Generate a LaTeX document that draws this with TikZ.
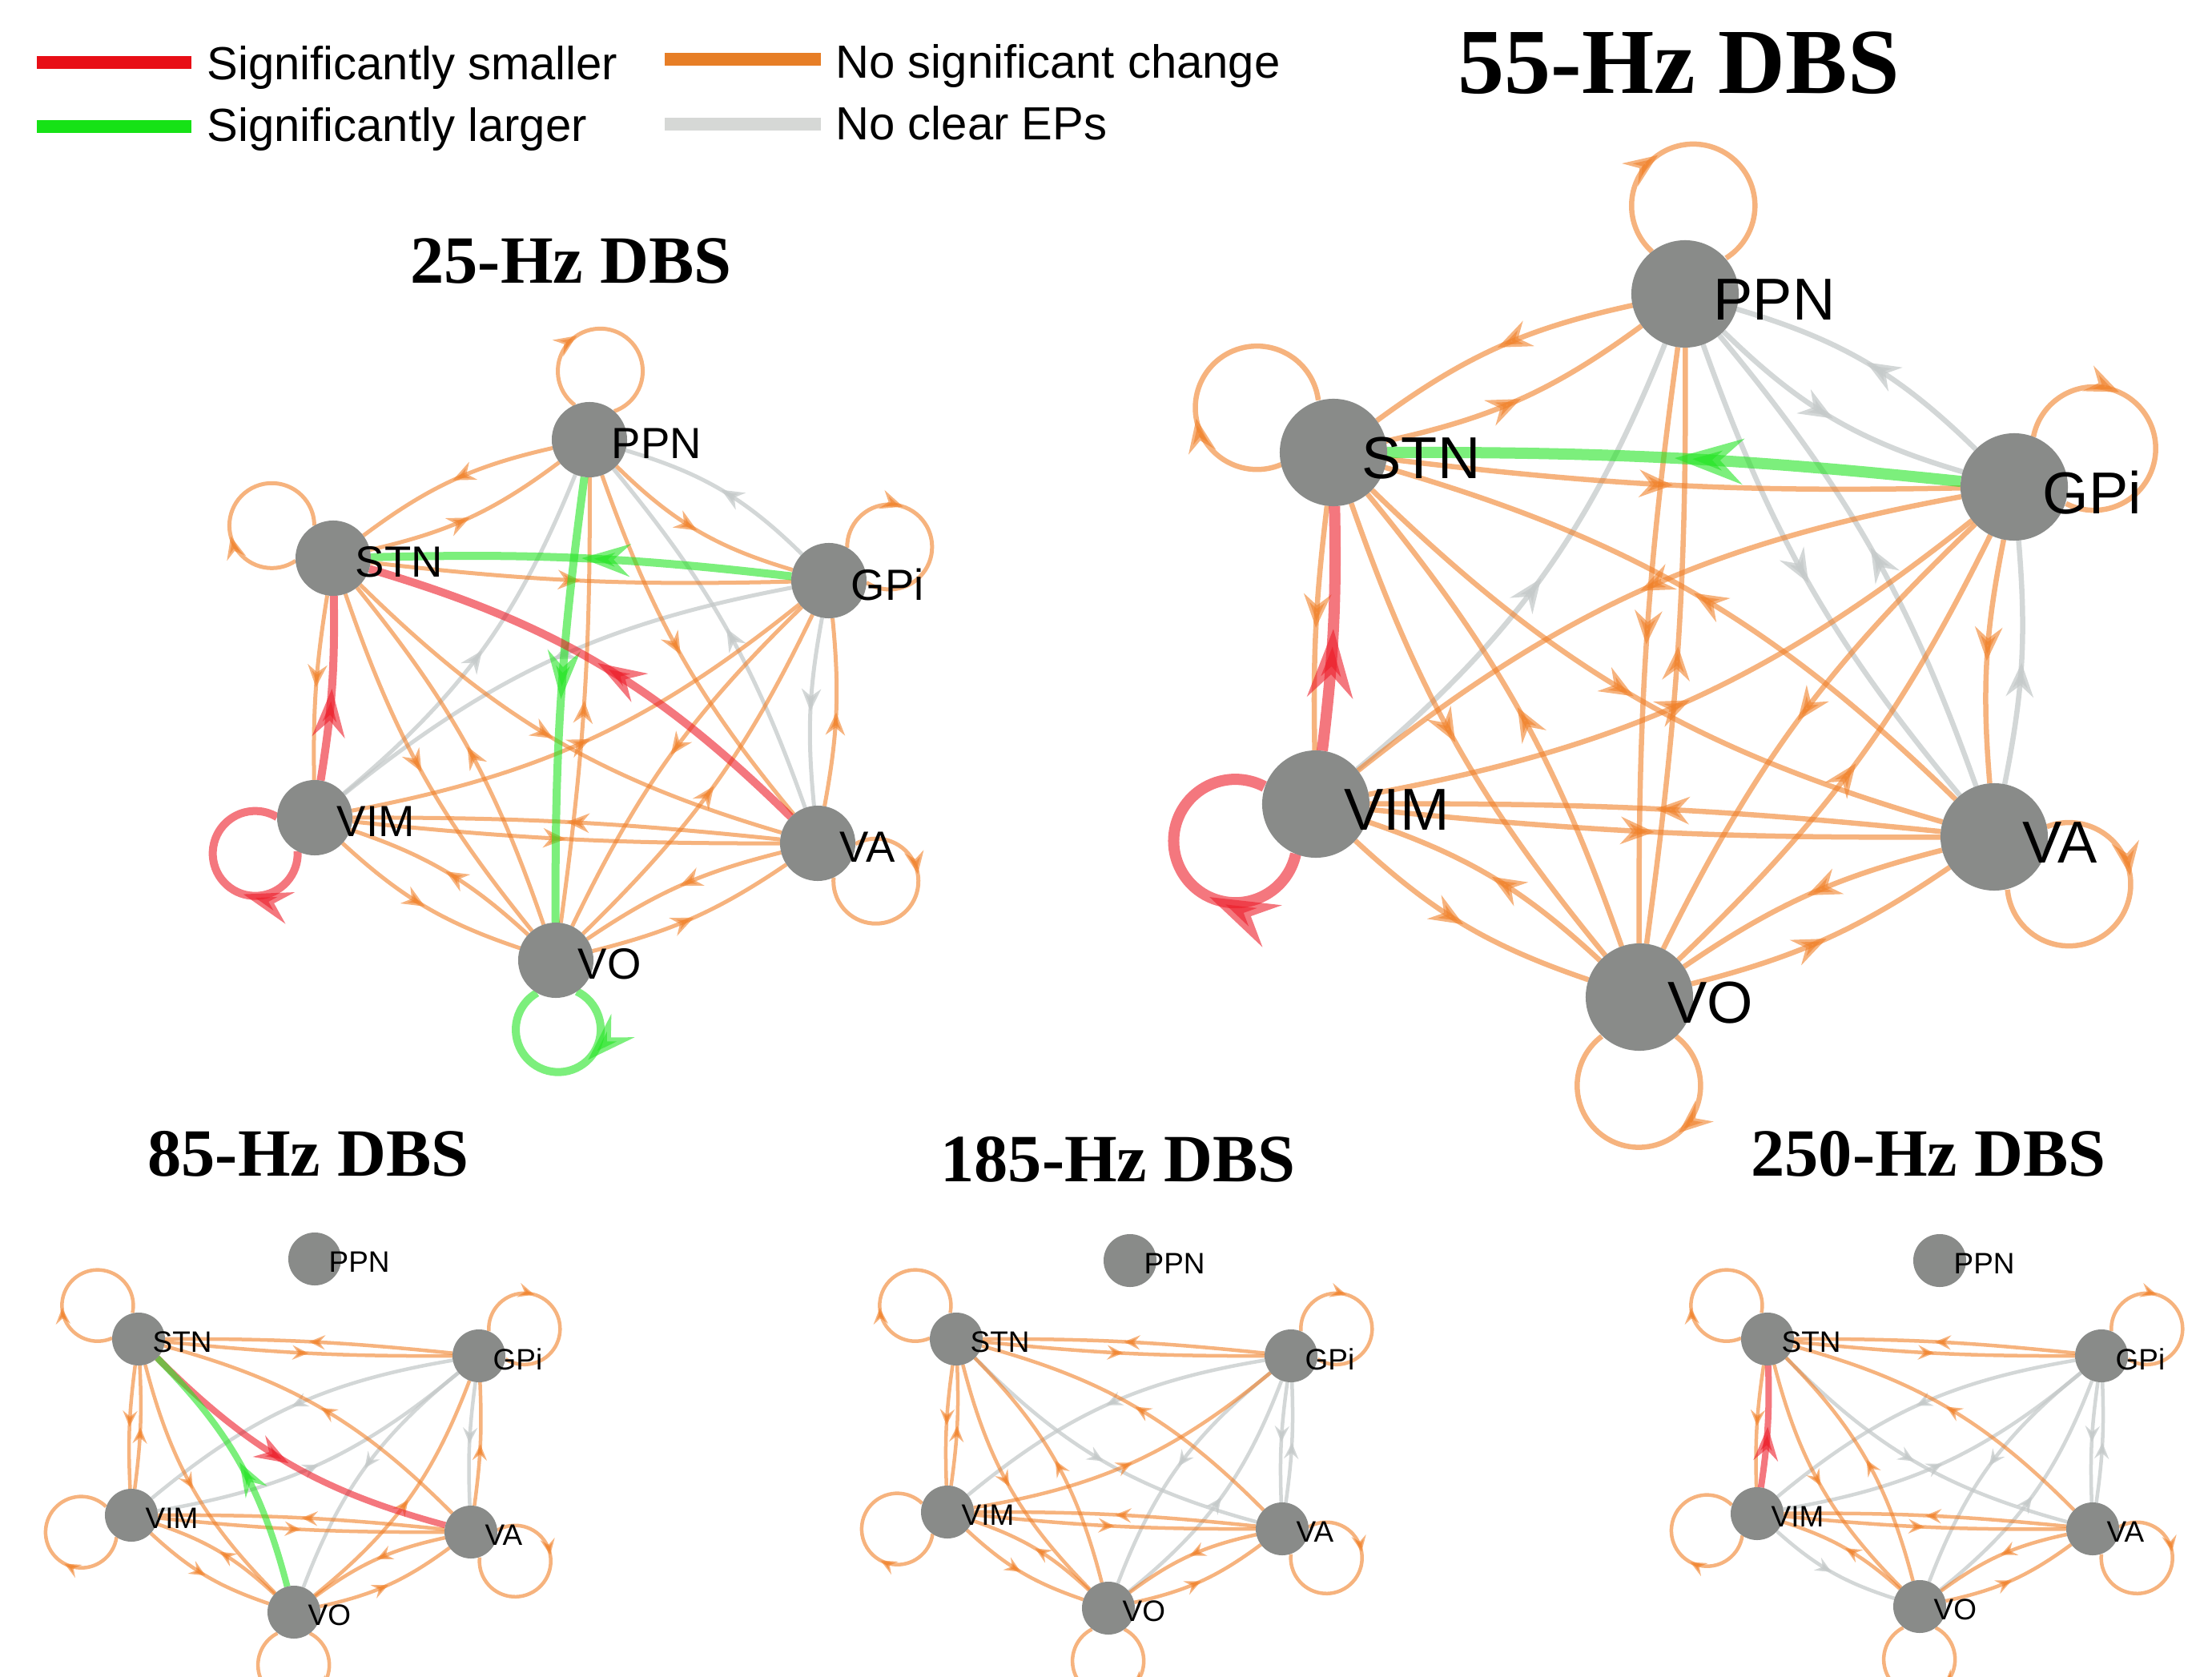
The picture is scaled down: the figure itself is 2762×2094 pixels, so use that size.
\documentclass[tikz,border=0pt]{standalone}
\usepackage{fontspec}
\setmainfont{Liberation Serif}
\setsansfont{Liberation Sans}
\usetikzlibrary{arrows.meta,decorations.markings}

\definecolor{hubgray}{RGB}{137,139,137}
\definecolor{nscorange}{RGB}{240,128,40}
\definecolor{noepgray}{RGB}{196,201,201}
\definecolor{smallred}{RGB}{236,28,40}
\definecolor{largegreen}{RGB}{36,228,36}
\definecolor{keyred}{RGB}{232,14,22}
\definecolor{keygreen}{RGB}{22,226,22}
\definecolor{keyorange}{RGB}{231,126,38}
\definecolor{keygray}{RGB}{214,216,214}

\pgfdeclarelayer{edges}
\pgfsetlayers{edges,main}

% position of the arrow head along a connection
\def\mpos{0.5}

\tikzset{
  hub/.style={circle, fill=hubgray, inner sep=0pt, outer sep=0pt},
  hubA/.style={hub, minimum size=0.94cm},
  hubB/.style={hub, minimum size=1.34cm},
  hubC/.style={hub, minimum size=0.66cm},
  tagA/.style={inner sep=0pt, font=\sffamily\fontsize{15.5}{16}\selectfont, xshift=-0.2cm, yshift=-0.05cm},
  tagB/.style={inner sep=0pt, font=\sffamily\fontsize{21}{22}\selectfont, xshift=-0.32cm, yshift=-0.07cm},
  tagC/.style={inner sep=0pt, font=\sffamily\fontsize{10.5}{11}\selectfont, xshift=-0.16cm, yshift=-0.04cm},
  title/.style={inner sep=0pt, font=\bfseries\fontsize{24}{24}\selectfont},
  key/.style={anchor=base west, inner sep=0pt, font=\sffamily\fontsize{16.5}{17}\selectfont},
  keybar/.style={line width=0.15cm},
  % no significant change
  ora/.style={draw=nscorange, opacity=.6, line width=\edgew, postaction={decorate},
    decoration={markings, mark=at position \mpos with {\arrow{Stealth[length=\tipl, width=\tipw, inset=\tipin]}}}},
  % no clear EPs
  gry/.style={ora, draw=noepgray, opacity=.75},
  % significantly smaller / larger
  rd/.style={draw=smallred, opacity=.6, line width=\hotw, postaction={decorate},
    decoration={markings, mark=at position \mpos with {\arrow{Stealth[length=\hotl, width=\hotwd, inset=\hotin]}}}},
  gn/.style={rd, draw=largegreen},
  % sizes of the three kinds of panels
  sizeA/.code={\def\edgew{0.05cm}\def\tipl{0.28cm}\def\tipw{0.24cm}\def\tipin{0.09cm}
    \def\hotw{0.1cm}\def\hotl{0.6cm}\def\hotwd{0.4cm}\def\hotin{0.2cm}
    \def\lphi{32}\def\lpsi{152}\def\lrad{0.53cm}},
  sizeB/.code={\def\edgew{0.065cm}\def\tipl{0.42cm}\def\tipw{0.34cm}\def\tipin{0.14cm}
    \def\hotw{0.14cm}\def\hotl{0.85cm}\def\hotwd{0.56cm}\def\hotin{0.28cm}
    \def\lphi{43}\def\lpsi{143}\def\lrad{0.77cm}},
  sizeC/.code={\def\edgew{0.045cm}\def\tipl{0.2cm}\def\tipw{0.18cm}\def\tipin{0.07cm}
    \def\hotw{0.08cm}\def\hotl{0.42cm}\def\hotwd{0.3cm}\def\hotin{0.14cm}
    \def\lphi{37}\def\lpsi{153}\def\lrad{0.445cm}},
}

% self connection: node, outward angle, style
\newcommand{\selfloop}[3]{%
  \pgfmathtruncatemacro{\loopin}{mod(#2+\lphi+720,360)}%
  \pgfmathtruncatemacro{\loopst}{#2+\lpsi}%
  \pgfmathtruncatemacro{\loopen}{#2-\lpsi}%
  {\def\mpos{0.36}\draw[#3] (#1.\loopin) arc[start angle=\loopst, end angle=\loopen, radius=\lrad];}}

\begin{document}
\begin{tikzpicture}[x=0.01cm, y=-0.01cm]
\useasboundingbox (0,0) rectangle (2762,2094);

% ----- legend -----
\draw[keybar, keyred] (46,78) -- (239,78);
\draw[keybar, keygreen] (46,158) -- (239,158);
\draw[keybar, keyorange] (830,74) -- (1025,74);
\draw[keybar, keygray] (830,155) -- (1025,155);
\node[key] (ksmall) at (258,100) {Significantly smaller};
\node[key] (klarge) at (258,177) {Significantly larger};
\node[key] (knone) at (1043,98) {No significant change};
\node[key] (kclear) at (1043,175) {No clear EPs};

% ----- titles -----
\node[title, font=\bfseries\fontsize{33}{33}\selectfont] (t55) at (2096,79) {55-Hz DBS};
\node[title] (t25) at (713,326) {25-Hz DBS};
\node[title] (t85) at (385,1441) {85-Hz DBS};
\node[title] (t185) at (1396,1448) {185-Hz DBS};
\node[title] (t250) at (2408,1441) {250-Hz DBS};

% ----- 25 Hz -----
\begin{scope}[sizeA]
\node[hubA, label={[tagA]east:PPN}] (ppn25) at (736,549) {};
\node[hubA, label={[tagA]east:STN}] (stn25) at (416,697) {};
\node[hubA, label={[tagA]east:GPi}] (gpi25) at (1035,725) {};
\node[hubA, label={[tagA]east:VIM}] (vim25) at (393,1021) {};
\node[hubA, label={[tagA]east:VA}] (va25) at (1021,1053) {};
\node[hubA, label={[tagA]east:VO}] (vo25) at (694,1199) {};
\begin{pgfonlayer}{edges}
\foreach \src/\dst/\kind/\bnd in {
    gpi/ppn/gry/14, gpi/va/gry/8, gpi/vim/gry/14, vim/ppn/gry/14, va/ppn/gry/10,
    ppn/stn/ora/12, stn/ppn/ora/12, ppn/gpi/ora/14, stn/gpi/ora/4, stn/vim/ora/5,
    va/gpi/ora/8, vim/va/ora/3, va/vim/ora/3, vim/vo/ora/12, vo/vim/ora/12,
    vo/va/ora/10, va/vo/ora/10, vo/ppn/ora/4, stn/va/ora/14, vim/gpi/ora/14,
    ppn/va/ora/10, stn/vo/ora/10, vo/stn/ora/10, gpi/vo/ora/10, vo/gpi/ora/10,
    gpi/stn/gn/4, ppn/vo/gn/4, vim/stn/rd/5, va/stn/rd/14}
  \draw[\kind] (\src25) to[bend right=\bnd] (\dst25);
\selfloop{ppn25}{81}{ora}
\selfloop{stn25}{152}{ora}
\selfloop{gpi25}{29}{ora}
\selfloop{va25}{-33}{ora}
\selfloop{vim25}{-149}{rd}
\selfloop{vo25}{-88}{gn}
\end{pgfonlayer}
\end{scope}

% ----- 55 Hz -----
\begin{scope}[sizeB]
\node[hubB, label={[tagB]east:PPN}] (ppn55) at (2104,367) {};
\node[hubB, label={[tagB]east:STN}] (stn55) at (1665,565) {};
\node[hubB, label={[tagB]east:GPi}] (gpi55) at (2515,608) {};
\node[hubB, label={[tagB]east:VIM}] (vim55) at (1643,1004) {};
\node[hubB, label={[tagB]east:VA}] (va55) at (2490,1045) {};
\node[hubB, label={[tagB]east:VO}] (vo55) at (2047,1245) {};
\begin{pgfonlayer}{edges}
\foreach \src/\dst/\kind/\bnd in {
    ppn/gpi/gry/14, gpi/ppn/gry/14, va/gpi/gry/8, vim/ppn/gry/14, ppn/va/gry/10, va/ppn/gry/10,
    ppn/stn/ora/12, stn/ppn/ora/12, stn/gpi/ora/4, stn/vim/ora/4, gpi/va/ora/8,
    vim/va/ora/3, va/vim/ora/3, vim/vo/ora/12, vo/vim/ora/12, vo/va/ora/10, va/vo/ora/10,
    ppn/vo/ora/4, vo/ppn/ora/4, stn/va/ora/14, va/stn/ora/14, gpi/vim/ora/14, vim/gpi/ora/14,
    stn/vo/ora/10, vo/stn/ora/10, gpi/vo/ora/10, vo/gpi/ora/10,
    gpi/stn/gn/3, vim/stn/rd/4}
  \draw[\kind] (\src55) to[bend right=\bnd] (\dst55);
\selfloop{ppn55}{85}{ora}
\selfloop{stn55}{150}{ora}
\selfloop{gpi55}{26}{ora}
\selfloop{va55}{-32}{ora}
\selfloop{vo55}{-90}{ora}
\selfloop{vim55}{-155}{rd}
\end{pgfonlayer}
\end{scope}

% ----- 85 Hz -----
\begin{scope}[sizeC]
\node[hubC, label={[tagC]east:PPN}] (ppn85) at (393,1572) {};
\node[hubC, label={[tagC]east:STN}] (stn85) at (173,1672) {};
\node[hubC, label={[tagC]east:GPi}] (gpi85) at (598,1693) {};
\node[hubC, label={[tagC]east:VIM}] (vim85) at (164,1892) {};
\node[hubC, label={[tagC]east:VA}] (va85) at (588,1913) {};
\node[hubC, label={[tagC]east:VO}] (vo85) at (367,2013) {};
\begin{pgfonlayer}{edges}
\foreach \src/\dst/\kind/\bnd in {
    gpi/va/gry/5, gpi/vim/gry/15, vim/gpi/gry/15, gpi/vo/gry/15,
    stn/gpi/ora/3, gpi/stn/ora/3, stn/vim/ora/5, vim/stn/ora/5, va/gpi/ora/5,
    vim/va/ora/3, va/vim/ora/3, vim/vo/ora/12, vo/vim/ora/12, vo/va/ora/12, va/vo/ora/12,
    va/stn/ora/15, stn/vo/ora/15, vo/gpi/ora/15,
    stn/va/rd/15, vo/stn/gn/15}
  \draw[\kind] (\src85) to[bend right=\bnd] (\dst85);
\selfloop{stn85}{141}{ora}
\selfloop{gpi85}{31}{ora}
\selfloop{vim85}{-161}{ora}
\selfloop{va85}{-33}{ora}
\selfloop{vo85}{-90}{ora}
\end{pgfonlayer}
\end{scope}

% ----- 185 Hz -----
\begin{scope}[sizeC]
\node[hubC, label={[tagC]east:PPN}] (ppn185) at (1411,1574) {};
\node[hubC, label={[tagC]east:STN}] (stn185) at (1194,1672) {};
\node[hubC, label={[tagC]east:GPi}] (gpi185) at (1612,1693) {};
\node[hubC, label={[tagC]east:VIM}] (vim185) at (1183,1888) {};
\node[hubC, label={[tagC]east:VA}] (va185) at (1601,1909) {};
\node[hubC, label={[tagC]east:VO}] (vo185) at (1384,2008) {};
\begin{pgfonlayer}{edges}
\foreach \src/\dst/\kind/\bnd in {
    gpi/va/gry/5, va/gpi/gry/5, stn/va/gry/15, gpi/vim/gry/15, gpi/vo/gry/15, vo/gpi/gry/15,
    stn/gpi/ora/3, gpi/stn/ora/3, stn/vim/ora/5, vim/stn/ora/5,
    vim/va/ora/3, va/vim/ora/3, vim/vo/ora/12, vo/vim/ora/12, vo/va/ora/12, va/vo/ora/12,
    va/stn/ora/15, stn/vo/ora/15, vo/stn/ora/15, vim/gpi/ora/15}
  \draw[\kind] (\src185) to[bend right=\bnd] (\dst185);
\selfloop{stn185}{141}{ora}
\selfloop{gpi185}{31}{ora}
\selfloop{vim185}{-161}{ora}
\selfloop{va185}{-33}{ora}
\selfloop{vo185}{-90}{ora}
\end{pgfonlayer}
\end{scope}

% ----- 250 Hz -----
\begin{scope}[sizeC]
\node[hubC, label={[tagC]east:PPN}] (ppn250) at (2422,1574) {};
\node[hubC, label={[tagC]east:STN}] (stn250) at (2207,1672) {};
\node[hubC, label={[tagC]east:GPi}] (gpi250) at (2624,1693) {};
\node[hubC, label={[tagC]east:VIM}] (vim250) at (2194,1890) {};
\node[hubC, label={[tagC]east:VA}] (va250) at (2613,1909) {};
\node[hubC, label={[tagC]east:VO}] (vo250) at (2397,2006) {};
\begin{pgfonlayer}{edges}
\foreach \src/\dst/\kind/\bnd in {
    gpi/va/gry/5, va/gpi/gry/5, stn/va/gry/15, gpi/vim/gry/15, vim/gpi/gry/15,
    gpi/vo/gry/15, vo/gpi/gry/15, vim/vo/gry/12,
    stn/gpi/ora/3, gpi/stn/ora/3, stn/vim/ora/5, vim/va/ora/3, va/vim/ora/3,
    vo/vim/ora/12, vo/va/ora/12, va/vo/ora/12, va/stn/ora/15, stn/vo/ora/15, vo/stn/ora/15,
    vim/stn/rd/5}
  \draw[\kind] (\src250) to[bend right=\bnd] (\dst250);
\selfloop{stn250}{141}{ora}
\selfloop{gpi250}{31}{ora}
\selfloop{vim250}{-161}{ora}
\selfloop{va250}{-33}{ora}
\selfloop{vo250}{-90}{ora}
\end{pgfonlayer}
\end{scope}
\end{tikzpicture}
\end{document}
